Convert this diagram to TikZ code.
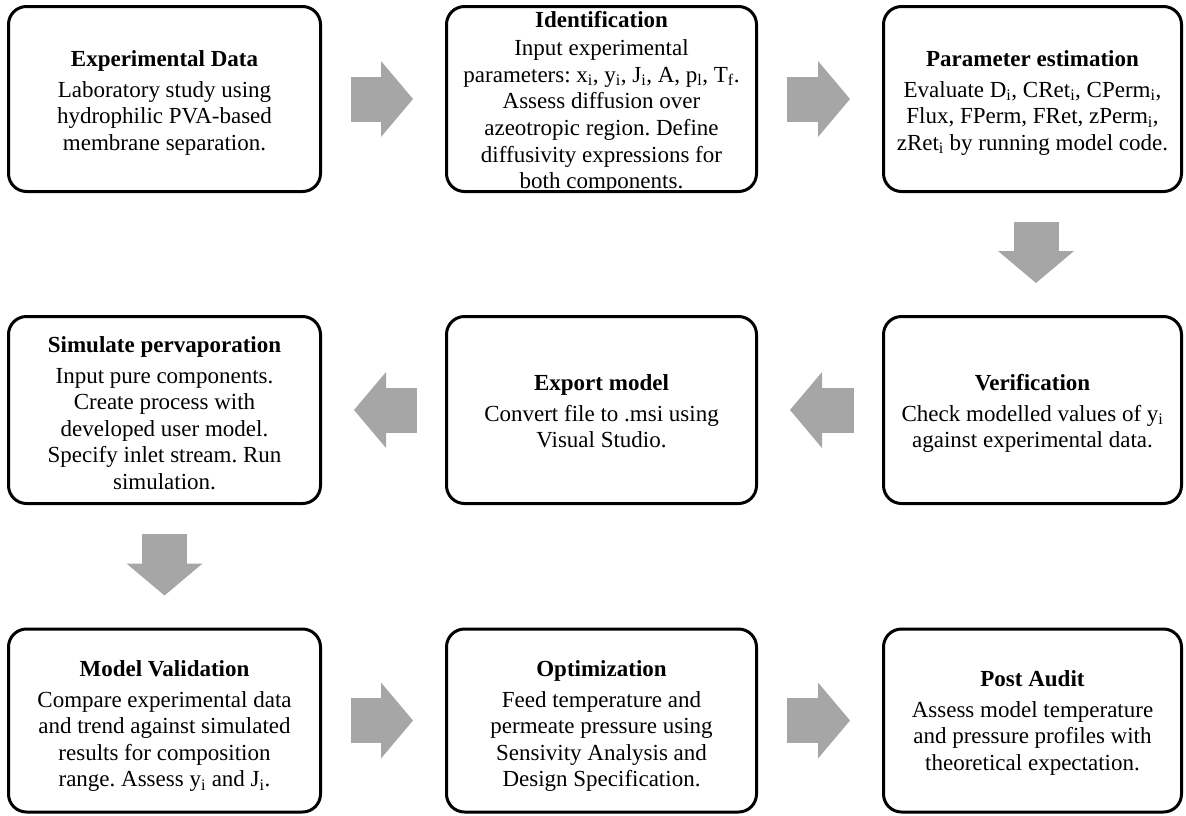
\documentclass[tikz,border=0pt]{standalone}
\usepackage{fontspec}
\setmainfont{Liberation Serif}
\usetikzlibrary{arrows.meta}
\definecolor{arrowgray}{HTML}{A6A6A6}
\newcommand{\sbi}{\textsubscript{i}}
\begin{document}
\begin{tikzpicture}[x=1pt,y=-1pt,
  box/.style={draw=black, line width=3pt, rounded corners=18pt, inner sep=0pt},
  txt/.style={align=center, inner sep=0pt,
    font=\fontsize{23}{26.6}\selectfont\frenchspacing},
  flow/.style={draw=arrowgray, line width=45pt, shorten <=28.5pt, shorten >=32pt,
    -{Triangle[length=32pt,width=76pt,line width=0pt]}}]
\useasboundingbox (0,0) rectangle (1186,815);

% boxes
\node[box, minimum width=312pt, minimum height=185pt] (exp)    at (164.5,99) {};
\node[box, minimum width=310pt, minimum height=185pt] (ident)  at (601.5,99) {};
\node[box, minimum width=298pt, minimum height=185pt] (param)  at (1032.5,99) {};
\node[box, minimum width=298pt, minimum height=187pt] (verif)  at (1032.5,410) {};
\node[box, minimum width=310pt, minimum height=187pt] (export) at (601.5,410) {};
\node[box, minimum width=312pt, minimum height=187pt] (sim)    at (164.5,410) {};
\node[box, minimum width=312pt, minimum height=183pt] (valid)  at (164.5,720.5) {};
\node[box, minimum width=310pt, minimum height=183pt] (optim)  at (601.5,720.5) {};
\node[box, minimum width=298pt, minimum height=183pt] (audit)  at (1032.5,720.5) {};

% texts
\node[txt] (exp-t) at ([yshift=-3.8pt]exp.center)
  {\strut\textbf{Experimental Data}\\[4.4pt]
   Laboratory study using\\
   hydrophilic PVA-based\\
   membrane separation.\strut};
\node[txt] (ident-t) at ([yshift=-3.5pt]ident.center)
  {\strut\textbf{Identification}\\[2pt]
   Input experimental\\
   parameters: x\sbi, y\sbi, J\sbi, A, p\textsubscript{l}, T\textsubscript{f}.\\
   Assess diffusion over\\
   azeotropic region. Define\\
   diffusivity expressions for\\
   both components.\strut};
\node[txt] (param-t) at ([yshift=-3.8pt]param.center)
  {\strut\textbf{Parameter estimation}\\[4.4pt]
   Evaluate D\sbi, CRet\sbi, CPerm\sbi,\\
   Flux, FPerm, FRet, zPerm\sbi,\\
   zRet\sbi{} by running model code.\strut};
\node[txt] (verif-t) at ([yshift=-3.5pt]verif.center)
  {\strut\textbf{Verification}\\[4.4pt]
   Check modelled values of y\sbi\\
   against experimental data.\strut};
\node[txt] (export-t) at ([yshift=-3.5pt]export.center)
  {\strut\textbf{Export model}\\[4.4pt]
   Convert file to .msi using\\
   Visual Studio.\strut};
\node[txt] (sim-t) at ([yshift=-5.4pt]sim.center)
  {\strut\textbf{Simulate pervaporation}\\[4.4pt]
   Input pure components.\\
   Create process with\\
   developed user model.\\
   Specify inlet stream. Run\\
   simulation.\strut};
\node[txt] (valid-t) at ([yshift=-5.6pt]valid.center)
  {\strut\textbf{Model Validation}\\[4.4pt]
   Compare experimental data\\
   and trend against simulated\\
   results for composition\\
   range. Assess y\sbi{} and J\sbi.\strut};
\node[txt] (optim-t) at ([yshift=-5.6pt]optim.center)
  {\strut\textbf{Optimization}\\[4.4pt]
   Feed temperature and\\
   permeate pressure using\\
   Sensivity Analysis and\\
   Design Specification.\strut};
\node[txt] (audit-t) at ([yshift=-2.3pt]audit.center)
  {\strut\textbf{Post Audit}\\[4.4pt]
   Assess model temperature\\
   and pressure profiles with\\
   theoretical expectation.\strut};

% block arrows
\draw[flow] (exp) -- (ident);
\draw[flow] (ident) -- (param);
\draw[flow] ([xshift=3.5pt]param.south) -- ([xshift=3.5pt]verif.north);
\draw[flow] (verif) -- (export);
\draw[flow] (export) -- (sim);
\draw[flow] (sim) -- (valid);
\draw[flow] (valid) -- (optim);
\draw[flow] (optim) -- (audit);
\end{tikzpicture}
\end{document}
